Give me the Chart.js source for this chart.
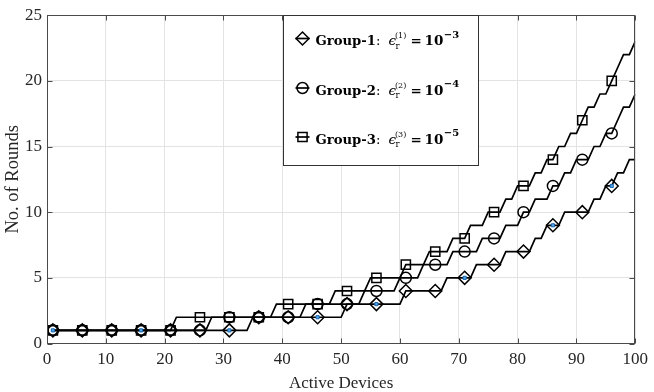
<!DOCTYPE html>
<html>
<head>
<meta charset="utf-8">
<title>No. of Rounds vs Active Devices</title>
<script src="https://cdn.jsdelivr.net/npm/chart.js@4.4.1/dist/chart.umd.min.js"></script>
<style>
  html, body { margin: 0; padding: 0; background: #fff; }
  #box { width: 654px; height: 392px; }
</style>
</head>
<body>
<div id="box"><canvas id="myChart" width="654" height="392"></canvas></div>
<script>
'use strict';

// x categories: number of active devices 1..100
let devices = [];
for (let i = 1; i <= 100; i++) {
  devices.push(i);
}

// rounds, one row per ten devices
let group1Rounds = [
  1, 1, 1, 1, 1, 1, 1, 1, 1, 1,
  1, 1, 1, 1, 1, 1, 1, 1, 1, 1,
  1, 1, 1, 1, 1, 1, 1, 1, 1, 1,
  1, 1, 1, 1, 2, 2, 2, 2, 2, 2,
  2, 2, 2, 2, 2, 2, 2, 2, 2, 2,
  3, 3, 3, 3, 3, 3, 3, 3, 3, 3,
  4, 4, 4, 4, 4, 4, 4, 5, 5, 5,
  5, 5, 6, 6, 6, 6, 6, 7, 7, 7,
  7, 7, 8, 8, 9, 9, 9, 10, 10, 10,
  10, 10, 11, 11, 12, 12, 13, 13, 14, 14
];
let group2Rounds = [
  1, 1, 1, 1, 1, 1, 1, 1, 1, 1,
  1, 1, 1, 1, 1, 1, 1, 1, 1, 1,
  1, 1, 1, 1, 1, 1, 1, 2, 2, 2,
  2, 2, 2, 2, 2, 2, 2, 2, 2, 2,
  2, 2, 2, 3, 3, 3, 3, 3, 3, 3,
  3, 3, 3, 4, 4, 4, 4, 4, 4, 5,
  5, 5, 5, 6, 6, 6, 6, 6, 7, 7,
  7, 7, 7, 8, 8, 8, 8, 9, 9, 9,
  10, 10, 11, 11, 11, 12, 12, 13, 13, 14,
  14, 14, 15, 15, 16, 16, 17, 18, 18, 19
];
let group3Rounds = [
  1, 1, 1, 1, 1, 1, 1, 1, 1, 1,
  1, 1, 1, 1, 1, 1, 1, 1, 1, 1,
  1, 2, 2, 2, 2, 2, 2, 2, 2, 2,
  2, 2, 2, 2, 2, 2, 2, 2, 3, 3,
  3, 3, 3, 3, 3, 3, 3, 3, 4, 4,
  4, 4, 4, 4, 5, 5, 5, 5, 5, 5,
  6, 6, 6, 6, 7, 7, 7, 7, 8, 8,
  8, 9, 9, 9, 10, 10, 10, 11, 11, 12,
  12, 12, 13, 13, 14, 14, 15, 15, 16, 16,
  17, 18, 18, 19, 19, 20, 21, 22, 22, 23
];

let xTicks = [0, 10, 20, 30, 40, 50, 60, 70, 80, 90, 100];
let yTicks = [0, 5, 10, 15, 20, 25];
let markerEvery = 5;
// devices where the small blue dot sits inside the diamond
let blueDotDevices = [1, 16, 31, 46, 56, 71, 86, 96];

let legendNames = ['Group-1', 'Group-2', 'Group-3'];
let legendEpsIndex = ['(1)', '(2)', '(3)'];
let legendExponent = ['\u22123', '\u22124', '\u22125'];

let serif = '"Liberation Serif", "Times New Roman", serif';
let texFont = '"DejaVu Serif", serif';

// marker shape and size for each group
let markerStyles = ['rectRot', 'circle', 'rect'];
let markerSizes = [6.5, 5.5, 6.5];

function toPoints(values) {
  return devices.map((d, i) => ({ x: d, y: values[i] }));
}

function lineSet(label, values, k) {
  return {
    label: label,
    data: toPoints(values),
    borderColor: '#000',
    borderWidth: 1.7,
    backgroundColor: 'transparent',
    pointStyle: markerStyles[k],
    pointRadius: ctx => (ctx.dataIndex % markerEvery === 0 ? markerSizes[k] : 0),
    pointBorderWidth: 1.5,
    pointBorderColor: '#000',
    pointBackgroundColor: 'transparent',
    tension: 0,
    order: 1
  };
}

let blueDots = blueDotDevices.map(d => ({ x: d, y: group1Rounds[d - 1] }));

// box round the plot with inward ticks on all four sides
let frame = {
  id: 'frame',
  afterDatasetsDraw(chart) {
    let ctx = chart.ctx;
    let a = chart.chartArea;
    let xs = chart.scales.x;
    let ys = chart.scales.y;
    let l = Math.round(a.left) + 0.5;
    let r = Math.round(a.right) - 0.5;
    let t = Math.round(a.top) + 0.5;
    let b = Math.round(a.bottom) - 0.5;
    ctx.save();
    ctx.strokeStyle = '#4a4a4a';
    ctx.lineWidth = 1;
    ctx.strokeRect(l, t, r - l, b - t);
    ctx.beginPath();
    xTicks.forEach(v => {
      let px = Math.round(xs.getPixelForValue(v)) + 0.5;
      ctx.moveTo(px, b); ctx.lineTo(px, b - 5);
      ctx.moveTo(px, t); ctx.lineTo(px, t + 5);
    });
    yTicks.forEach(v => {
      let py = Math.round(ys.getPixelForValue(v)) + 0.5;
      ctx.moveTo(l, py); ctx.lineTo(l + 5, py);
      ctx.moveTo(r, py); ctx.lineTo(r - 5, py);
    });
    ctx.stroke();
    ctx.restore();
  }
};

function put(ctx, text, x, y, font) {
  ctx.font = font;
  ctx.fillText(text, x, y);
  return x + ctx.measureText(text).width;
}

let legendBox = {
  id: 'legendBox',
  afterDraw(chart) {
    let ctx = chart.ctx;
    let a = chart.chartArea;
    let left = Math.round(a.left + 236) + 0.5;
    let top = Math.round(a.top) + 0.5;
    let w = 195;
    let h = 150;
    ctx.save();
    ctx.fillStyle = '#fff';
    ctx.fillRect(left, top, w, h);
    ctx.strokeStyle = '#333';
    ctx.lineWidth = 1;
    ctx.strokeRect(left, top, w, h);

    let centers = [38.5, 88, 137];
    for (let i = 0; i < 3; i++) {
      let cy = centers[i];
      let mx = left + 19;
      ctx.strokeStyle = '#000';
      ctx.lineWidth = 1.7;
      ctx.beginPath();
      ctx.moveTo(mx - 7, cy);
      ctx.lineTo(mx + 7, cy);
      ctx.stroke();
      ctx.lineWidth = 1.5;
      ctx.fillStyle = 'transparent';
      Chart.helpers.drawPoint(ctx, {
        pointStyle: markerStyles[i],
        radius: markerSizes[i],
        borderWidth: 1.5,
        rotation: 0
      }, mx, cy);

      ctx.fillStyle = '#000';
      ctx.textBaseline = 'alphabetic';
      ctx.textAlign = 'left';
      let base = cy + 6.5;
      let x = put(ctx, legendNames[i], left + 32, base, 'bold 13.2px ' + texFont);
      put(ctx, ':', x, base, '13.2px ' + texFont);
      put(ctx, '\u03f5', left + 105, base, 'italic 13.5px ' + texFont);
      put(ctx, 'r', left + 112, base + 3.5, '8.5px ' + texFont);
      put(ctx, legendEpsIndex[i], left + 111.5, base - 7, '8px ' + texFont);
      put(ctx, '=', left + 127, base, 'bold 13.5px ' + texFont);
      x = put(ctx, '10', left + 141, base, 'bold 13.5px ' + texFont);
      put(ctx, legendExponent[i], x + 0.5, base - 7.5, 'bold 10px ' + texFont);
    }
    ctx.restore();
  }
};

let ctx = document.getElementById('myChart').getContext('2d');
let chart = new Chart(ctx, {
  type: 'line',
  data: {
    datasets: [
      {
        label: 'dots',
        data: blueDots,
        showLine: false,
        pointStyle: 'rect',
        pointRadius: 2.2,
        borderWidth: 1,
        borderColor: '#1565b0',
        backgroundColor: '#5aa8e6',
        order: 0
      },
      lineSet('Group-1', group1Rounds, 0),
      lineSet('Group-2', group2Rounds, 1),
      lineSet('Group-3', group3Rounds, 2)
    ]
  },
  options: {
    responsive: false,
    animation: false,
    devicePixelRatio: 1,
    events: [],
    layout: { padding: { top: 12.5, right: 12, left: 0, bottom: 0 } },
    plugins: {
      legend: { display: false },
      tooltip: { enabled: false }
    },
    scales: {
      x: {
        type: 'linear',
        min: 0,
        max: 100,
        afterBuildTicks: scale => { scale.ticks = xTicks.map(v => ({ value: v })); },
        afterFit: scale => { scale.height = 48.5; },
        grid: { color: '#e3e3e3', drawTicks: false },
        border: { display: false },
        ticks: {
          padding: 6,
          maxRotation: 0,
          color: '#262626',
          font: { family: serif, size: 17 }
        },
        title: {
          display: true,
          text: 'Active Devices',
          color: '#262626',
          padding: { top: 0, bottom: 0 },
          font: { family: serif, size: 17, lineHeight: 1 }
        }
      },
      y: {
        min: 0,
        max: 25,
        afterBuildTicks: scale => { scale.ticks = yTicks.map(v => ({ value: v })); },
        afterFit: scale => { scale.width = 47; },
        grid: { color: '#e3e3e3', drawTicks: false },
        border: { display: false },
        ticks: {
          padding: 5,
          color: '#262626',
          font: { family: serif, size: 17 }
        },
        title: {
          display: true,
          text: 'No. of Rounds',
          color: '#262626',
          padding: { top: 4, bottom: 0 },
          font: { family: serif, size: 18.5, lineHeight: 1 }
        }
      }
    }
  },
  plugins: [frame, legendBox]
});
</script>
</body>
</html>
